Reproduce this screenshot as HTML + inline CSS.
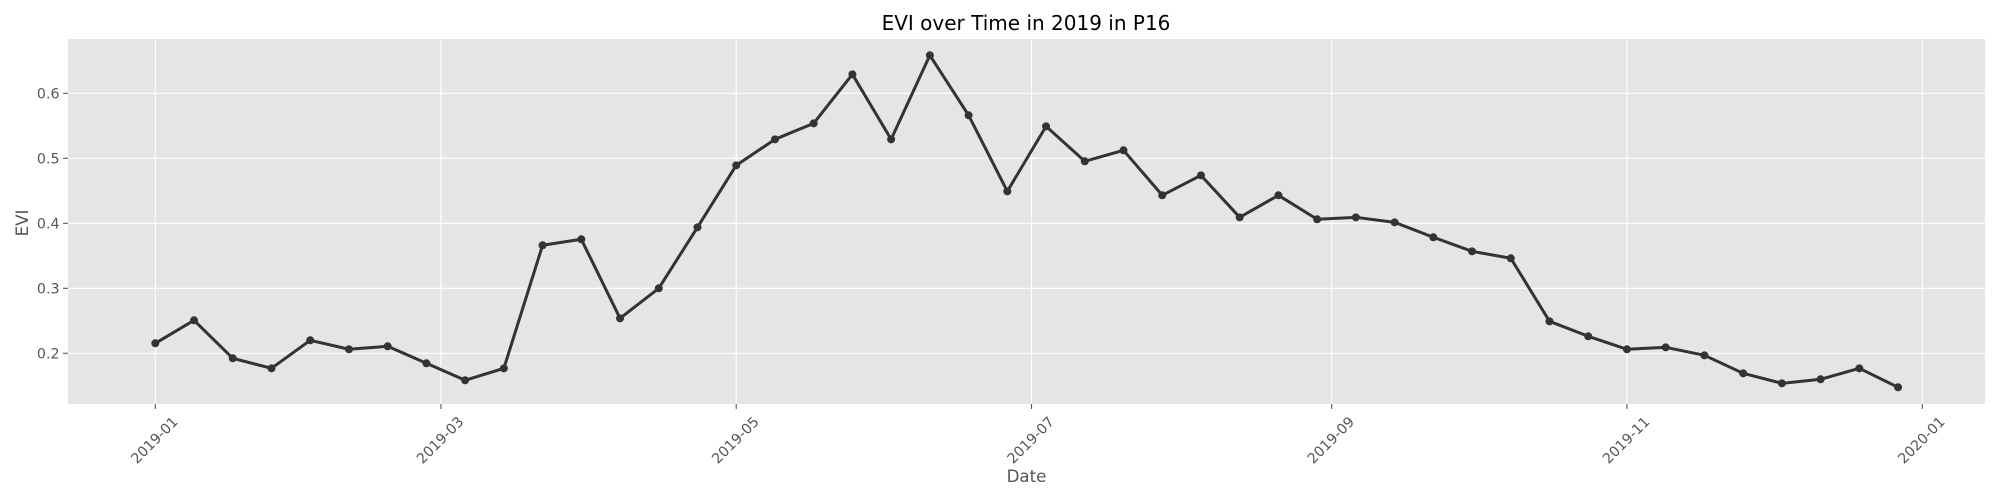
<!DOCTYPE html>
<html lang="en">
<head>
<meta charset="utf-8">
<title>EVI over Time in 2019 in P16</title>
<style>
  html, body { margin: 0; padding: 0; background: #fff; width: 2000px; height: 500px; overflow: hidden; }
  svg { display: block; font-family: "DejaVu Sans", "Liberation Sans", sans-serif; }
</style>
</head>
<body>
<svg id="chart" xmlns="http://www.w3.org/2000/svg" width="2000" height="500" viewBox="0 0 2000 500">
  <rect x="0" y="0" width="2000" height="500" fill="#ffffff"/>
  <rect x="68" y="39" width="1917" height="365" fill="#e5e5e5"/>
  <g id="grid"></g>
  <g id="ticks"></g>
  <g id="series"></g>
  <text x="1026" y="30" text-anchor="middle" font-size="20" fill="#000000">EVI over Time in 2019 in P16</text>
  <text x="1026.5" y="482" text-anchor="middle" font-size="16.67" fill="#555555">Date</text>
  <text x="0" y="0" transform="translate(28 223) rotate(-90)" text-anchor="middle" font-size="16.67" fill="#555555">EVI</text>
</svg>
<script>
const dates = ["2019-01-01","2019-01-09","2019-01-17","2019-01-25","2019-02-02","2019-02-10","2019-02-18","2019-02-26","2019-03-06","2019-03-14","2019-03-22","2019-03-30","2019-04-07","2019-04-15","2019-04-23","2019-05-01","2019-05-09","2019-05-17","2019-05-25","2019-06-02","2019-06-10","2019-06-18","2019-06-26","2019-07-04","2019-07-12","2019-07-20","2019-07-28","2019-08-05","2019-08-13","2019-08-21","2019-08-29","2019-09-06","2019-09-14","2019-09-22","2019-09-30","2019-10-08","2019-10-16","2019-10-24","2019-11-01","2019-11-09","2019-11-17","2019-11-25","2019-12-03","2019-12-11","2019-12-19","2019-12-27"];
const eviValues = [0.2154,0.2508,0.1923,0.1769,0.2200,0.2062,0.2108,0.1846,0.1585,0.1769,0.3662,0.3754,0.2538,0.3000,0.3938,0.4892,0.5292,0.5538,0.6292,0.5292,0.6585,0.5662,0.4492,0.5492,0.4954,0.5123,0.4431,0.4738,0.4092,0.4431,0.4062,0.4092,0.4015,0.3785,0.3569,0.3462,0.2492,0.2262,0.2062,0.2092,0.1969,0.1692,0.1538,0.1600,0.1769,0.1477];
const xTickDates = ["2019-01-01","2019-03-01","2019-05-01","2019-07-01","2019-09-01","2019-11-01","2020-01-01"];
const xTickLabels = ["2019-01","2019-03","2019-05","2019-07","2019-09","2019-11","2020-01"];
const yTickValues = [0.2,0.3,0.4,0.5,0.6];
const yTickLabels = ["0.2","0.3","0.4","0.5","0.6"];

const SVG_NS = "http://www.w3.org/2000/svg";
const DAY_MS = 86400000;
const PLOT = { left: 68, right: 1985, top: 39, bottom: 404 };

function xScale(dateStr) {
  const days = (Date.parse(dateStr + "T00:00:00Z") - Date.parse("2019-01-01T00:00:00Z")) / DAY_MS;
  return 155.3 + days * 4.841;
}
function yScale(v) {
  return 353.3 - (v - 0.2) * 650;
}
function make(tag, attrs, parent) {
  const el = document.createElementNS(SVG_NS, tag);
  for (const k in attrs) el.setAttribute(k, attrs[k]);
  parent.appendChild(el);
  return el;
}

const gridG = document.getElementById("grid");
const ticksG = document.getElementById("ticks");
const seriesG = document.getElementById("series");

yTickValues.forEach(function (v, i) {
  const y = yScale(v);
  const grid = make("line", { x1: PLOT.left, x2: PLOT.right, y1: y, y2: y, stroke: "#ffffff", "stroke-width": 1.1 }, gridG);
  
  
  const tick = make("line", { x1: PLOT.left - 4.9, x2: PLOT.left, y1: y, y2: y, stroke: "#555555", "stroke-width": 1.1 }, ticksG);
  
  
  const label = make("text", { x: PLOT.left - 8.5, y: y + 5, "text-anchor": "end", "font-size": 14.2, fill: "#555555" }, ticksG);
  
  
  label.textContent = yTickLabels[i];
});

xTickDates.forEach(function (d, i) {
  const x = xScale(d);
  const grid = make("line", { x1: x, x2: x, y1: PLOT.top, y2: PLOT.bottom, stroke: "#ffffff", "stroke-width": 1.1 }, gridG);
  
  
  const tick = make("line", { x1: x, x2: x, y1: PLOT.bottom, y2: PLOT.bottom + 4.9, stroke: "#555555", "stroke-width": 1.1 }, ticksG);
  
  
  const label = make("text", { x: 0, y: 5, "text-anchor": "middle", "font-size": 14.2, fill: "#555555", transform: "translate(" + (x - 1) + " 440) rotate(-45)" }, ticksG);
  
  
  label.textContent = xTickLabels[i];
});

const pointsAttr = dates.map(function (d, i) {
  return xScale(d).toFixed(2) + "," + yScale(eviValues[i]).toFixed(2);
}).join(" ");
const line = make("polyline", { points: pointsAttr, fill: "none", stroke: "#333333", "stroke-width": 3, "stroke-linejoin": "round", "stroke-linecap": "round" }, seriesG);



dates.forEach(function (d, i) {
  const pt = make("circle", { cx: xScale(d), cy: yScale(eviValues[i]), r: 4, fill: "#333333" }, seriesG);
  
  
});
</script>
</body>
</html>
